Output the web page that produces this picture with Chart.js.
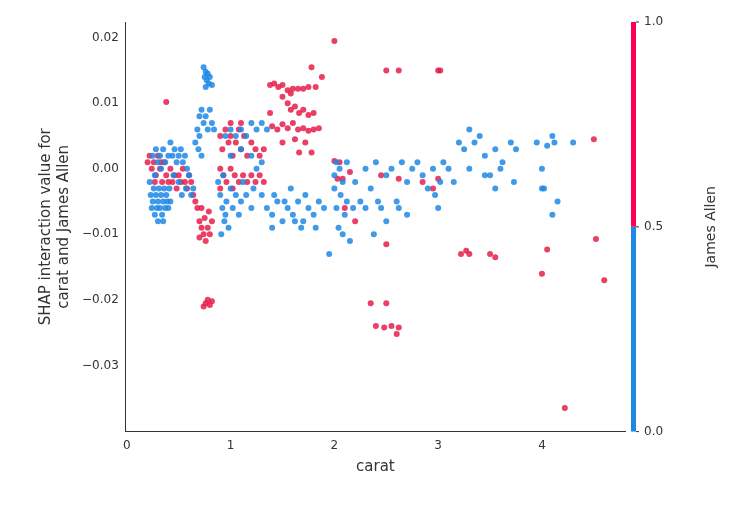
<!DOCTYPE html>
<html>
<head>
<meta charset="utf-8">
<script src="https://cdn.jsdelivr.net/npm/chart.js@4/dist/chart.umd.min.js"></script>
<style>
body{margin:0;background:#fff;}
#wrap{position:relative;width:756px;height:510px;}
</style>
</head>
<body>
<div id="wrap"><canvas id="chart" width="756" height="510"></canvas></div>
<script>
// SHAP interaction: carat vs James Allen

const xTicks = [0, 1, 2, 3, 4];
const yTicks = [0.02, 0.01, 0.0, -0.01, -0.02, -0.03];
const colorTicks = ["1.0", "0.5", "0.0"];

// James Allen = 0
const bluePoints = [
  [0.22,-0.002],[0.23,-0.004],[0.24,-0.006],[0.25,-0.005],[0.26,-0.003],[0.27,-0.007],[0.28,-0.004],[0.29,-0.006],
  [0.3,-0.005],[0.31,-0.003],[0.32,-0.006],[0.33,-0.004],[0.34,-0.007],[0.35,-0.005],[0.36,-0.003],[0.37,-0.006],
  [0.38,-0.004],[0.39,-0.005],[0.4,-0.006],[0.41,-0.003],[0.42,-0.005],[0.25,0.002],[0.28,0.003],[0.3,0.001],
  [0.32,0.002],[0.35,0.003],[0.37,0.001],[0.4,0.002],[0.42,0.004],[0.44,0.002],[0.46,0.003],[0.48,0.001],
  [0.5,0.002],[0.52,0.003],[0.54,0.001],[0.56,0.002],[0.58,0.0],[0.6,-0.001],[0.45,-0.001],[0.5,-0.002],
  [0.53,-0.004],[0.57,-0.003],[0.62,-0.004],[0.64,-0.003],[0.3,-0.008],[0.35,-0.008],[0.27,-0.001],[0.33,0.0],
  [0.66,0.004],[0.68,0.006],[0.7,0.008],[0.72,0.009],[0.74,0.007],[0.76,0.008],[0.78,0.006],[0.8,0.009],
  [0.82,0.007],[0.7,0.005],[0.69,0.003],[0.84,0.006],[0.72,0.002],
  [0.74,0.0155],[0.75,0.014],[0.76,0.0148],[0.77,0.0135],[0.78,0.0145],[0.79,0.013],[0.8,0.014],[0.82,0.0128],[0.76,0.0125],
  [0.88,-0.002],[0.9,-0.004],[0.92,-0.006],[0.94,-0.008],[0.96,-0.005],[0.98,-0.009],[1.0,-0.003],[0.91,-0.01],
  [0.93,-0.001],[0.95,-0.007],[1.02,-0.006],[1.05,-0.004],[1.08,-0.007],[1.1,-0.005],[1.15,-0.004],[1.2,-0.006],
  [0.95,0.005],[1.0,0.006],[1.05,0.005],[1.1,0.006],[1.15,0.005],[1.2,0.007],[1.25,0.006],[1.3,0.007],[1.35,0.006],
  [1.0,0.002],[1.1,0.003],[1.2,0.002],[1.3,0.001],[1.12,-0.002],[1.22,-0.003],[1.3,-0.004],[1.25,0.0],
  [1.35,-0.006],[1.4,-0.007],[1.45,-0.005],[1.5,-0.008],[1.55,-0.006],[1.6,-0.007],[1.65,-0.005],[1.7,-0.008],
  [1.75,-0.006],[1.8,-0.007],[1.85,-0.005],[1.9,-0.006],[1.42,-0.004],[1.52,-0.005],[1.62,-0.008],[1.72,-0.004],
  [1.4,-0.009],[1.58,-0.003],[1.82,-0.009],[1.95,-0.013],[1.68,-0.009],
  [2.0,-0.003],[2.02,-0.006],[2.04,-0.009],[2.06,-0.004],[2.08,-0.01],[2.1,-0.007],[2.12,-0.005],[2.15,-0.011],
  [2.0,-0.001],[2.02,0.001],[2.05,0.0],[2.08,-0.002],[2.12,0.001],[2.18,-0.006],[2.2,-0.002],[2.25,-0.005],
  [2.3,0.0],[2.35,-0.003],[2.4,0.001],[2.45,-0.006],[2.5,-0.001],[2.55,0.0],[2.6,-0.005],[2.65,0.001],
  [2.7,-0.002],[2.75,0.0],[2.8,0.001],[2.85,-0.001],[2.9,-0.003],[2.95,0.0],[2.38,-0.01],[2.5,-0.008],
  [2.62,-0.006],[2.7,-0.007],[2.3,-0.006],[2.42,-0.005],
  [2.97,-0.004],[3.0,-0.006],[3.02,-0.002],[3.05,0.001],[3.1,0.0],[3.15,-0.002],[3.2,0.004],[3.25,0.003],
  [3.3,0.0],[3.35,0.004],[3.4,0.005],[3.45,0.002],[3.5,-0.001],[3.55,0.003],[3.6,0.0],[3.7,0.004],[3.75,0.003],
  [3.3,0.006],[3.45,-0.001],[3.55,-0.003],[3.62,0.001],[3.73,-0.002],
  [3.95,0.004],[4.0,0.0],[4.02,-0.003],[4.05,0.0035],[4.1,0.005],[4.12,0.004],[4.15,-0.005],[4.3,0.004],[4.1,-0.007],[4.0,-0.003]
];

// James Allen = 1
const redPoints = [
  [0.2,0.001],[0.22,0.002],[0.24,0.0],[0.26,0.001],[0.28,-0.001],[0.3,0.002],[0.32,0.0],[0.34,-0.002],
  [0.36,0.001],[0.38,-0.001],[0.4,-0.002],[0.42,0.0],[0.44,-0.002],[0.46,-0.001],[0.48,-0.003],[0.5,-0.001],
  [0.52,-0.002],[0.54,0.0],[0.56,-0.002],[0.58,-0.003],[0.6,-0.001],[0.62,-0.002],[0.27,-0.002],[0.33,0.001],
  [0.38,0.0102],
  [0.64,-0.004],[0.66,-0.005],[0.68,-0.006],[0.7,-0.008],[0.72,-0.009],[0.74,-0.01],[0.76,-0.011],[0.78,-0.009],
  [0.8,-0.01],[0.82,-0.008],[0.72,-0.006],[0.75,-0.0075],[0.79,-0.0065],[0.7,-0.0105],
  [0.74,-0.021],[0.76,-0.0205],[0.78,-0.02],[0.8,-0.0208],[0.82,-0.0202],
  [0.9,0.005],[0.92,0.003],[0.95,0.006],[0.98,0.004],[1.0,0.005],[1.02,0.002],[1.05,0.004],[1.08,0.006],
  [1.1,0.003],[1.13,0.005],[1.16,0.002],[1.2,0.004],[1.24,0.003],[1.28,0.002],[1.32,0.003],
  [0.9,0.0],[0.93,-0.001],[0.96,-0.002],[1.0,0.0],[1.04,-0.001],[1.08,-0.002],[1.12,-0.001],[1.16,-0.002],
  [1.2,-0.001],[1.24,-0.002],[1.28,-0.001],[1.32,-0.002],[0.9,-0.003],[1.0,0.007],[1.1,0.007],[1.02,-0.003],
  [1.38,0.0128],[1.42,0.013],[1.46,0.0125],[1.5,0.0128],[1.55,0.012],[1.6,0.0122],[1.65,0.0122],[1.7,0.0122],
  [1.75,0.0125],[1.82,0.0125],[1.88,0.014],[1.78,0.0155],[1.58,0.0115],
  [1.5,0.011],[1.55,0.01],[1.58,0.009],[1.62,0.0095],[1.66,0.0085],[1.7,0.009],[1.75,0.0082],[1.8,0.0085],
  [1.4,0.0065],[1.45,0.006],[1.5,0.0068],[1.55,0.0062],[1.6,0.007],[1.65,0.006],[1.7,0.0062],[1.75,0.0058],
  [1.8,0.006],[1.85,0.0062],[1.5,0.004],[1.62,0.0045],[1.72,0.004],[1.66,0.0025],[1.78,0.0025],[1.38,0.0085],
  [2.0,0.0195],[2.0,0.0012],[2.05,0.001],[2.03,-0.0015],[2.1,-0.006],[2.08,-0.0015],[2.15,-0.0005],
  [2.2,-0.008],[2.35,-0.0205],[2.4,-0.024],[2.5,-0.0205],[2.55,-0.024],[2.6,-0.0252],[2.62,-0.0242],[2.48,-0.0242],
  [2.5,0.015],[2.62,0.015],[3.0,0.015],[3.02,0.015],[2.5,-0.0115],[2.45,-0.001],[2.62,-0.0015],[2.85,-0.002],
  [2.95,-0.003],[3.0,-0.0015],[3.22,-0.013],[3.27,-0.0125],[3.3,-0.013],[3.5,-0.013],[3.55,-0.0135],
  [4.0,-0.016],[4.05,-0.0123],[4.22,-0.0365],[4.5,0.0045],[4.52,-0.0107],[4.6,-0.017]
];

const BLUE = "rgba(30,136,229,0.85)";
const RED = "rgba(230,30,75,0.85)";

// colour bar on the right, drawn after the chart
const colorBar = {
  id: "colorBar",
  afterDraw(chart) {
    const ctx = chart.ctx;
    const top = chart.chartArea.top, bottom = chart.chartArea.bottom;
    const x = 631, w = 5, mid = (top + bottom) / 2;
    ctx.save();
    ctx.fillStyle = "#ff0052";
    ctx.fillRect(x, top, w, mid - top);
    ctx.fillStyle = "#1e88e5";
    ctx.fillRect(x, mid, w, bottom - mid);
    ctx.fillStyle = "#333";
    ctx.font = "12px 'DejaVu Sans'";
    ctx.textBaseline = "middle";
    ctx.strokeStyle = "#333";
    [top, mid, bottom].forEach((y, i) => {
      ctx.beginPath();
      ctx.moveTo(x + w, y);
      ctx.lineTo(x + w + 3, y);
      ctx.stroke();
      ctx.fillText(colorTicks[i], x + w + 8, y);
    });
    ctx.translate(711, mid);
    ctx.rotate(-Math.PI / 2);
    ctx.textAlign = "center";
    ctx.font = "14px 'DejaVu Sans'";
    ctx.fillText("James Allen", 0, 0);
    ctx.restore();
  }
};

Chart.defaults.font.family = "'DejaVu Sans'";
Chart.defaults.color = "#333";

new Chart(document.getElementById("chart"), {
  type: "scatter",
  data: {
    datasets: [
      { label: "0", data: bluePoints.map(p => ({ x: p[0], y: p[1] })), backgroundColor: BLUE, borderColor: BLUE, pointRadius: 3, borderWidth: 0 },
      { label: "1", data: redPoints.map(p => ({ x: p[0], y: p[1] })), backgroundColor: RED, borderColor: RED, pointRadius: 3, borderWidth: 0 }
    ]
  },
  options: {
    responsive: false,
    animation: false,
    layout: { padding: { left: 33, right: 131, top: 22, bottom: 30 } },
    plugins: { legend: { display: false }, tooltip: { enabled: false } },
    scales: {
      x: {
        type: "linear", min: -0.01, max: 4.8,
        afterBuildTicks: a => { a.ticks = xTicks.map(v => ({ value: v })); },
        grid: { display: false, drawTicks: true, tickLength: 4, tickColor: "#333" },
        border: { color: "#333" },
        ticks: { font: { size: 12 }, callback: v => String(v) },
        title: { display: true, text: "carat", font: { size: 15 }, padding: { top: 2 } }
      },
      y: {
        type: "linear", min: -0.0401, max: 0.0224,
        afterBuildTicks: a => { a.ticks = yTicks.map(v => ({ value: v })); },
        grid: { display: false, drawTicks: true, tickLength: 4, tickColor: "#333" },
        border: { color: "#333" },
        ticks: { font: { size: 12 }, callback: v => (v < 0 ? "\u2212" : "") + Math.abs(v).toFixed(2) },
        title: { display: true, text: ["SHAP interaction value for", "carat and James Allen"], font: { size: 15 }, padding: { bottom: 6 } }
      }
    }
  },
  plugins: [colorBar]
});
</script>
</body>
</html>
